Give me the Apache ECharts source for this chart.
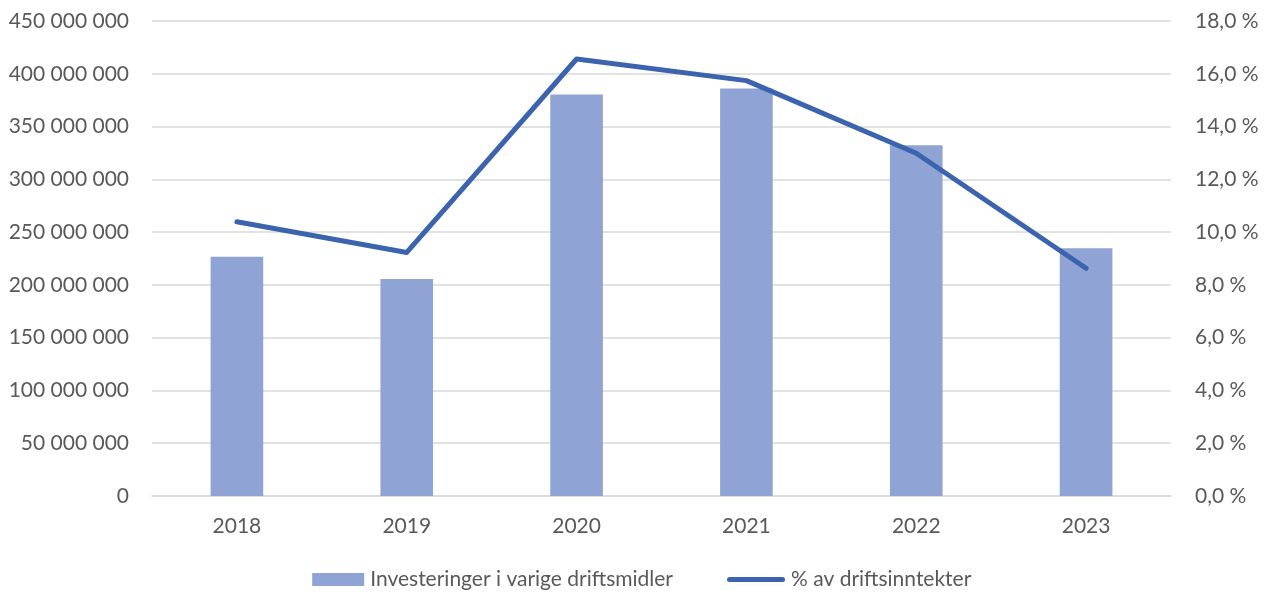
<!DOCTYPE html>
<html>
<head>
<meta charset="utf-8">
<script src="https://cdn.jsdelivr.net/npm/echarts@6/dist/echarts.min.js"></script>
<style>
  html, body { margin: 0; padding: 0; background: #fff; }
  #chart { width: 1269px; height: 594px; }
</style>
</head>
<body>
<div id="chart"></div>
<script>
// Years on the category axis
const years = ['2018', '2019', '2020', '2021', '2022', '2023'];
// Investeringer i varige driftsmidler (NOK)
const investeringer = [226600000, 205500000, 380400000, 386100000, 332400000, 234800000];
// % av driftsinntekter
const andel = [10.39, 9.23, 16.56, 15.74, 12.99, 8.63];

const barName = 'Investeringer i varige driftsmidler';
const lineName = '% av driftsinntekter';
const textColor = '#595959';
const font = 'Lato, "Open Sans", sans-serif';
const fontSize = 21;
const barColor = '#8fa3d4';
const lineColor = '#3c64ae';

// thin rounded stroke inside a 58x13 box, so both legend rows share one height
const lineIcon = 'path://M0,0 L0,0 M0,13 L0,13 M2.5,4 L55.5,4 A2.5,2.5 0 0 1 55.5,9 L2.5,9 A2.5,2.5 0 0 1 2.5,4 Z';

function nok(v) {
  return String(Math.round(v)).replace(/\B(?=(\d{3})+(?!\d))/g, ' ');
}
function pct(v) {
  return v.toFixed(1).replace('.', ',') + ' %';
}

const legendText = { color: textColor, fontSize: fontSize, fontFamily: font, padding: [0, 0, 0, 1] };

const chart = echarts.init(document.getElementById('chart'));
chart.setOption({
  animation: false,
  textStyle: { fontFamily: font },
  grid: { left: 152, right: 98, top: 21, bottom: 98 },
  legend: [
    {
      // bar entry, right-aligned to leave the gap before the line entry
      right: 591,
      top: 564,
      itemWidth: 52,
      itemHeight: 13,
      textStyle: legendText,
      data: [{ name: barName, icon: 'rect' }]
    },
    {
      left: 722,
      top: 564,
      itemWidth: 58,
      itemHeight: 13,
      textStyle: legendText,
      data: [{ name: lineName, icon: lineIcon }]
    }
  ],
  xAxis: {
    type: 'category',
    data: years,
    axisLine: { lineStyle: { color: '#d9d9d9', width: 1.5 } },
    axisTick: { show: false },
    axisLabel: { color: textColor, fontSize: fontSize, margin: 20 }
  },
  yAxis: [
    {
      type: 'value',
      min: 0, max: 450000000, interval: 50000000,
      axisLine: { show: false },
      axisTick: { show: false },
      splitLine: { lineStyle: { color: '#d9d9d9', width: 1.5 } },
      axisLabel: { color: textColor, fontSize: fontSize, margin: 23, formatter: nok }
    },
    {
      type: 'value',
      min: 0, max: 18, interval: 2,
      axisLine: { show: false },
      axisTick: { show: false },
      splitLine: { show: false },
      axisLabel: { color: textColor, fontSize: fontSize, margin: 24, formatter: pct }
    }
  ],
  series: [
    {
      name: barName,
      type: 'bar',
      data: investeringer,
      barWidth: '31%',
      itemStyle: { color: barColor }
    },
    {
      name: lineName,
      type: 'line',
      yAxisIndex: 1,
      data: andel,
      symbol: 'none',
      showSymbol: false,
      lineStyle: { color: lineColor, width: 5, cap: 'round', join: 'round' },
      itemStyle: { color: lineColor }
    }
  ]
});
</script>
</body>
</html>
